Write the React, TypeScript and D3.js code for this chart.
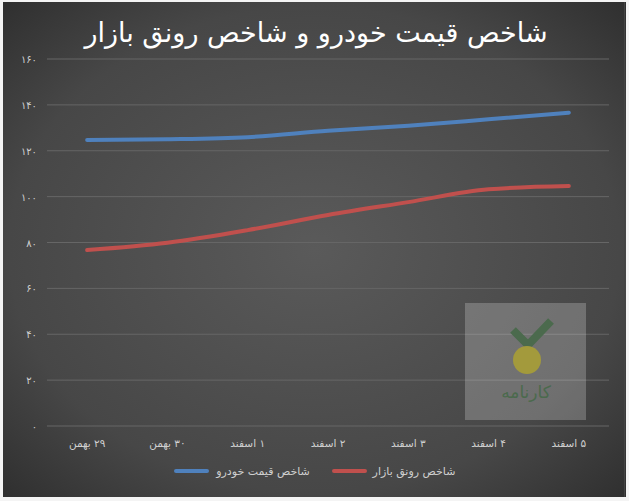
import React from 'react';
import * as d3 from 'd3';

const categories = ['۲۹ بهمن', '۳۰ بهمن', '۱ اسفند', '۲ اسفند', '۳ اسفند', '۴ اسفند', '۵ اسفند'];
const carPriceIndex = [124.7, 125.0, 125.9, 128.7, 130.9, 133.7, 136.6];
const marketBoomIndex = [76.7, 79.9, 85.4, 92.0, 97.6, 103.2, 104.6];
const yTicks = [0, 20, 40, 60, 80, 100, 120, 140, 160];
const seriesNames = ['شاخص قیمت خودرو', 'شاخص رونق بازار'];
const title = 'شاخص قیمت خودرو و شاخص رونق بازار';

const toFa = (n: number) => String(n).replace(/\d/g, (d) => '۰۱۲۳۴۵۶۷۸۹'[+d]);

const W = 629;
const H = 501;
const FONT = '"DejaVu Sans", sans-serif';
const BLUE = '#4f81bd';
const RED = '#c0504d';

export default function App() {
  const x = d3.scaleBand<string>().domain(categories).range([47, 609]);
  const y = d3.scaleLinear().domain([0, 160]).range([426, 59]);
  const cx = (c: string) => (x(c) as number) + x.bandwidth() / 2;
  const line = d3
    .line<number>()
    .x((_, i) => cx(categories[i]))
    .y((v) => y(v))
    .curve(d3.curveMonotoneX);

  return (
    <svg
      width={W}
      height={H}
      style={{ position: 'absolute', left: 0, top: 0, display: 'block' }}
    >
      <defs>
        <radialGradient id="bg" cx="50%" cy="50%" r="70%">
          <stop offset="0%" stopColor="#5a5a5a" />
          <stop offset="70%" stopColor="#474747" />
          <stop offset="100%" stopColor="#303030" />
        </radialGradient>
      </defs>
      <rect x={0} y={0} width={W} height={H} fill="#f4f4f4" />
      <rect x={3} y={2} width={623} height={495} fill="url(#bg)" />
      <line x1={624.5} x2={624.5} y1={2} y2={497} stroke="#444" strokeWidth={1} />
      <text
        x={316}
        y={42}
        fill="#ffffff"
        fontFamily={FONT}
        fontSize={27}
        textAnchor="middle"
        direction="rtl"
      >
        {title}
      </text>

      {yTicks.map((t) => (
        <g key={t}>
          <line x1={47} x2={609} y1={y(t)} y2={y(t)} stroke="#666666" strokeWidth={1} />
          <text
            x={37}
            y={y(t) + 4}
            fill="#d0d0d0"
            fontFamily={FONT}
            fontSize={10}
            textAnchor="end"
          >
            {toFa(t)}
          </text>
        </g>
      ))}

      {categories.map((c) => (
        <text
          key={c}
          x={cx(c)}
          y={447}
          fill="#d0d0d0"
          fontFamily={FONT}
          fontSize={10.5}
          textAnchor="middle"
          direction="rtl"
        >
          {c}
        </text>
      ))}

      {/* watermark */}
      <g>
        <rect x={465} y={303} width={121} height={117} fill="#ffffff" opacity={0.22} />
        <polyline
          points="513,330 528,345 551,321"
          fill="none"
          stroke="#4b6a4d"
          strokeWidth={8}
          strokeLinejoin="miter"
        />
        <circle cx={527} cy={360} r={14} fill="#a39a3c" />
        <text
          x={526}
          y={398}
          fill="#4b6a4d"
          fontFamily={FONT}
          fontSize={17}
          textAnchor="middle"
          direction="rtl"
        >
          کارنامه
        </text>
      </g>

      <path d={line(carPriceIndex) as string} fill="none" stroke={BLUE} strokeWidth={4} strokeLinecap="round" />
      <path d={line(marketBoomIndex) as string} fill="none" stroke={RED} strokeWidth={4} strokeLinecap="round" />

      {/* legend */}
      <line x1={176} x2={207} y1={471} y2={471} stroke={BLUE} strokeWidth={4} strokeLinecap="round" />
      <text x={263} y={475} fill="#d0d0d0" fontFamily={FONT} fontSize={11} textAnchor="middle" direction="rtl">
        {seriesNames[0]}
      </text>
      <line x1={334} x2={365} y1={471} y2={471} stroke={RED} strokeWidth={4} strokeLinecap="round" />
      <text x={414} y={475} fill="#d0d0d0" fontFamily={FONT} fontSize={11} textAnchor="middle" direction="rtl">
        {seriesNames[1]}
      </text>
    </svg>
  );
}
